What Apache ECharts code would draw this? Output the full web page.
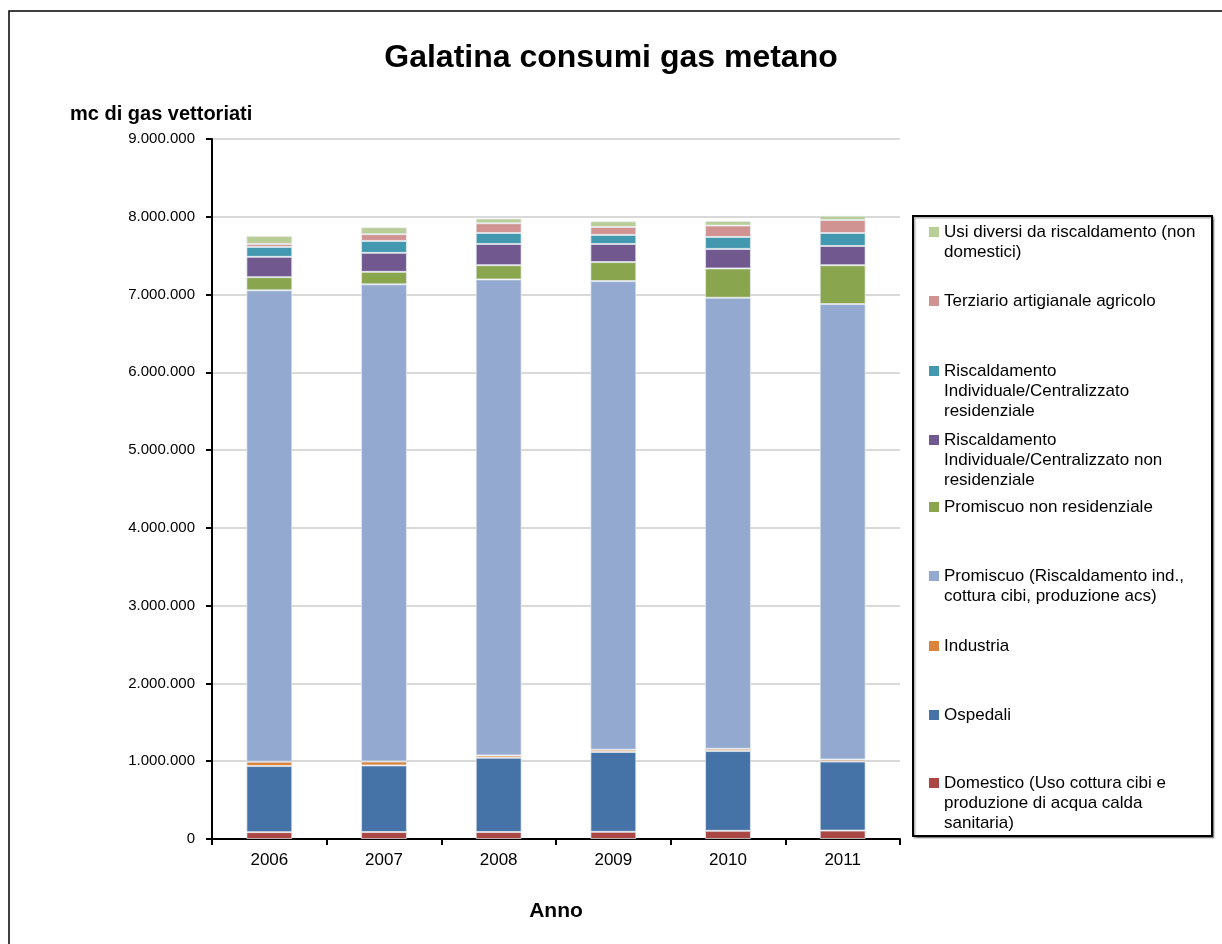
<!DOCTYPE html>
<html>
<head>
<meta charset="utf-8">
<script src="https://cdn.jsdelivr.net/npm/echarts@6/dist/echarts.min.js"></script>
<style>
  html, body { margin: 0; padding: 0; background: #fff; }
  #main { width: 1222px; height: 944px; }
</style>
</head>
<body>
<div id="main"></div>
<script>
// anni e consumi (mc) per categoria, dal basso verso l'alto
const anni = ["2006", "2007", "2008", "2009", "2010", "2011"];
const domestico = [88000, 90000, 90000, 92000, 105000, 108000];
const ospedali = [850000, 856000, 955000, 1026000, 1026000, 888000];
const industria = [56000, 51000, 29000, 29000, 29000, 26000];
const promiscuo = [6060000, 6134000, 6121000, 6026000, 5799000, 5855000];
const promNonRes = [170000, 161000, 183000, 244000, 377000, 500000];
const riscNonRes = [261000, 244000, 273000, 234000, 251000, 248000];
const riscRes = [128000, 154000, 141000, 116000, 154000, 166000];
const terziario = [38000, 86000, 125000, 102000, 146000, 167000];
const usiDiversi = [103000, 89000, 60000, 73000, 59000, 56000];

const nomi = [
  "Domestico (Uso cottura cibi e produzione di acqua calda sanitaria)",
  "Ospedali",
  "Industria",
  "Promiscuo (Riscaldamento ind., cottura cibi, produzione acs)",
  "Promiscuo non residenziale",
  "Riscaldamento Individuale/Centralizzato non residenziale",
  "Riscaldamento Individuale/Centralizzato residenziale",
  "Terziario artigianale agricolo",
  "Usi diversi da riscaldamento (non domestici)"
];
// testo della legenda, con gli a capo come nel grafico
const etichette = [
  "Domestico (Uso cottura cibi e\nproduzione di acqua calda\nsanitaria)",
  "Ospedali",
  "Industria",
  "Promiscuo (Riscaldamento ind.,\ncottura cibi, produzione acs)",
  "Promiscuo non residenziale",
  "Riscaldamento\nIndividuale/Centralizzato non\nresidenziale",
  "Riscaldamento\nIndividuale/Centralizzato\nresidenziale",
  "Terziario artigianale agricolo",
  "Usi diversi da riscaldamento (non\ndomestici)"
];
const valori = [domestico, ospedali, industria, promiscuo, promNonRes, riscNonRes, riscRes, terziario, usiDiversi];
const colori = ["#AA4643", "#4572A7", "#DB843D", "#93A9CF", "#89A54E", "#71588F", "#4198AF", "#D19392", "#B9CD96"];
// centro della prima riga di ogni voce di legenda (stesso ordine delle serie)
const legendaY = [783, 715, 646, 576, 507, 440, 371, 301, 232];

const font = "'Liberation Sans', Arial, sans-serif";
const riga = 20;

let chart = echarts.init(document.getElementById("main"));

// una legenda per voce; l'icona e' un quadratino in cima a un riquadro
// alto quanto il testo, cosi' resta allineato alla prima riga
const legende = nomi.map(function (n, i) {
  const righe = etichette[i].split("\n").length;
  const h = righe * riga;
  return {
    data: [n],
    orient: "vertical",
    left: 929,
    top: legendaY[i] - riga / 2,
    padding: 0,
    icon: "path://M0,0M0,5L10,5L10,15L0,15ZM0," + h,
    itemWidth: 10,
    itemHeight: h,
    itemStyle: { borderWidth: 0 },
    selectedMode: false,
    formatter: function () { return etichette[i]; },
    textStyle: {
      fontFamily: font,
      fontSize: 17,
      color: "#000",
      lineHeight: riga
    }
  };
});

const serie = nomi.map(function (n, i) {
  return {
    name: n,
    type: "bar",
    stack: "totale",
    barWidth: "40%",
    data: valori[i],
    itemStyle: {
      color: colori[i],
      borderColor: "rgba(230,235,240,0.7)",
      borderWidth: 1
    }
  };
});

chart.setOption({
  animation: false,
  backgroundColor: "#fff",
  title: [
    {
      text: "Galatina consumi gas metano",
      left: "center",
      top: 37,
      textStyle: { fontFamily: font, fontSize: 32, fontWeight: "bold", color: "#000" }
    },
    {
      text: "mc di gas vettoriati",
      left: 65,
      top: 99,
      textStyle: { fontFamily: font, fontSize: 20, fontWeight: "bold", color: "#000" }
    }
  ],
  legend: legende,
  grid: { left: 212, right: 322, top: 139, bottom: 105 },
  xAxis: {
    type: "category",
    data: anni,
    name: "Anno",
    nameLocation: "middle",
    nameGap: 62,
    nameTextStyle: { fontFamily: font, fontSize: 21, fontWeight: "bold", color: "#000" },
    axisLine: { lineStyle: { color: "#000", width: 2 } },
    axisTick: { show: true, length: 6, lineStyle: { color: "#000", width: 2 } },
    axisLabel: { fontFamily: font, fontSize: 17, color: "#000", margin: 13 }
  },
  yAxis: {
    type: "value",
    min: 0,
    max: 9000000,
    interval: 1000000,
    axisLine: { show: true, lineStyle: { color: "#000", width: 2 } },
    axisTick: { show: true, length: 6, lineStyle: { color: "#000", width: 2 } },
    axisLabel: {
      fontFamily: font,
      fontSize: 15,
      color: "#000",
      margin: 17,
      formatter: function (v) { return String(v).replace(/\B(?=(\d{3})+(?!\d))/g, "."); }
    },
    splitLine: { lineStyle: { color: "#D9D9D9", width: 2 } }
  },
  graphic: [
    {
      type: "rect",
      shape: { x: 9, y: 11, width: 1300, height: 1000 },
      style: { fill: null, stroke: "#000", lineWidth: 1.5 },
      z: -10
    },
    {
      type: "rect",
      shape: { x: 913, y: 216, width: 299, height: 620 },
      style: { fill: "#fff", stroke: "#000", lineWidth: 2, shadowColor: "rgba(0,0,0,0.3)", shadowOffsetX: 1.5, shadowOffsetY: 1.5, shadowBlur: 1 },
      z: -5
    }
  ],
  series: serie
});
</script>
</body>
</html>
